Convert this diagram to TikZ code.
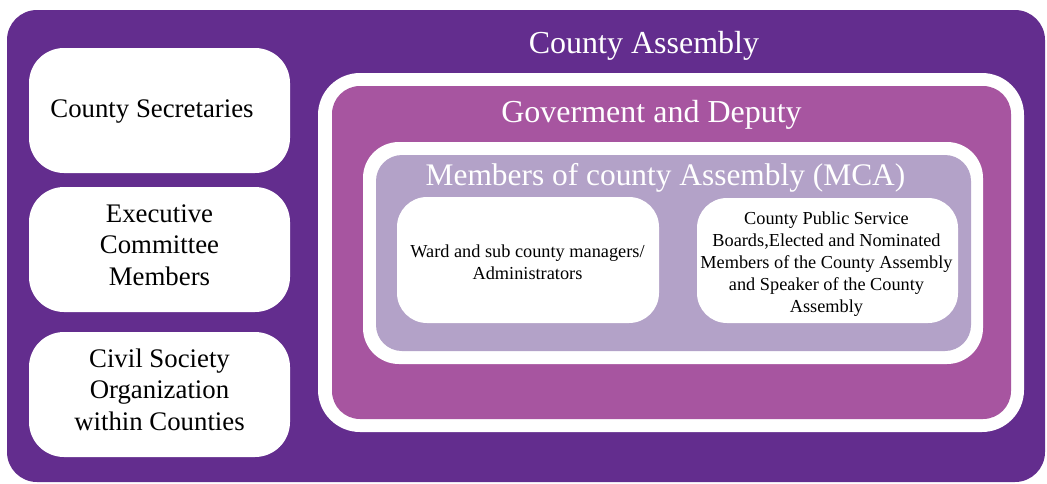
\documentclass[tikz,border=0pt]{standalone}
\usepackage{fontspec}
\setmainfont{Liberation Serif}
\definecolor{assemblypurple}{RGB}{99,45,142}
\definecolor{govmagenta}{RGB}{167,85,160}
\definecolor{mcalilac}{RGB}{179,162,200}
\tikzset{
  sidebox/.style={fill=white, rounded corners=35pt},
  innerbox/.style={fill=white, rounded corners=30pt},
  bigtitle/.style={text=white, anchor=base, inner sep=0pt},
  sidetext/.style={align=center, inner sep=0pt, font=\fontsize{26.8}{31.5}\selectfont},
  smalltext/.style={align=center, inner sep=0pt, font=\fontsize{18.3}{22}\selectfont},
}
\begin{document}
\begin{tikzpicture}[x=1pt,y=-1pt]
\useasboundingbox (0,0) rectangle (1047,483);
%outer frame
\fill[assemblypurple, rounded corners=30pt] (7,10) rectangle (1045,482);
\node[bigtitle, font=\fontsize{32}{36}\selectfont] (assembly) at (644,53) {County Assembly};
%left column
\fill[sidebox] (29,48) rectangle (290,173);
\fill[sidebox] (29,187) rectangle (290,312);
\fill[sidebox] (29,332) rectangle (290,457);
\node[sidetext] (secretaries) at (152,112) {County Secretaries};
\node[sidetext] (executive) at (159.5,245) {Executive\\Committee\\Members};
\node[sidetext] (civil) at (159.5,389.5) {Civil Society\\Organization\\within Counties};
%goverment box
\fill[white, rounded corners=42pt] (318,73) rectangle (1024,432);
\fill[govmagenta, rounded corners=28pt] (332,86) rectangle (1011,419);
\node[bigtitle, font=\fontsize{32}{36}\selectfont] (goverment) at (651.5,122) {Goverment and Deputy};
%mca box
\fill[white, rounded corners=36pt] (363,142) rectangle (983,364);
\fill[mcalilac, rounded corners=26pt] (376,155) rectangle (971,351);
\node[bigtitle, font=\fontsize{31.4}{36}\selectfont] (mca) at (665.5,185) {Members of county Assembly (MCA)};
%members
\fill[innerbox] (397,197) rectangle (659,323);
\fill[innerbox] (697,198) rectangle (958,323);
\node[smalltext] (ward) at (527.5,262) {Ward and sub county managers/\\Administrators};
\node[smalltext] (boards) at (826.5,264) {County Public Service\\Boards,Elected and Nominated\\Members of the County Assembly\\and Speaker of the County\\Assembly};
\end{tikzpicture}
\end{document}
